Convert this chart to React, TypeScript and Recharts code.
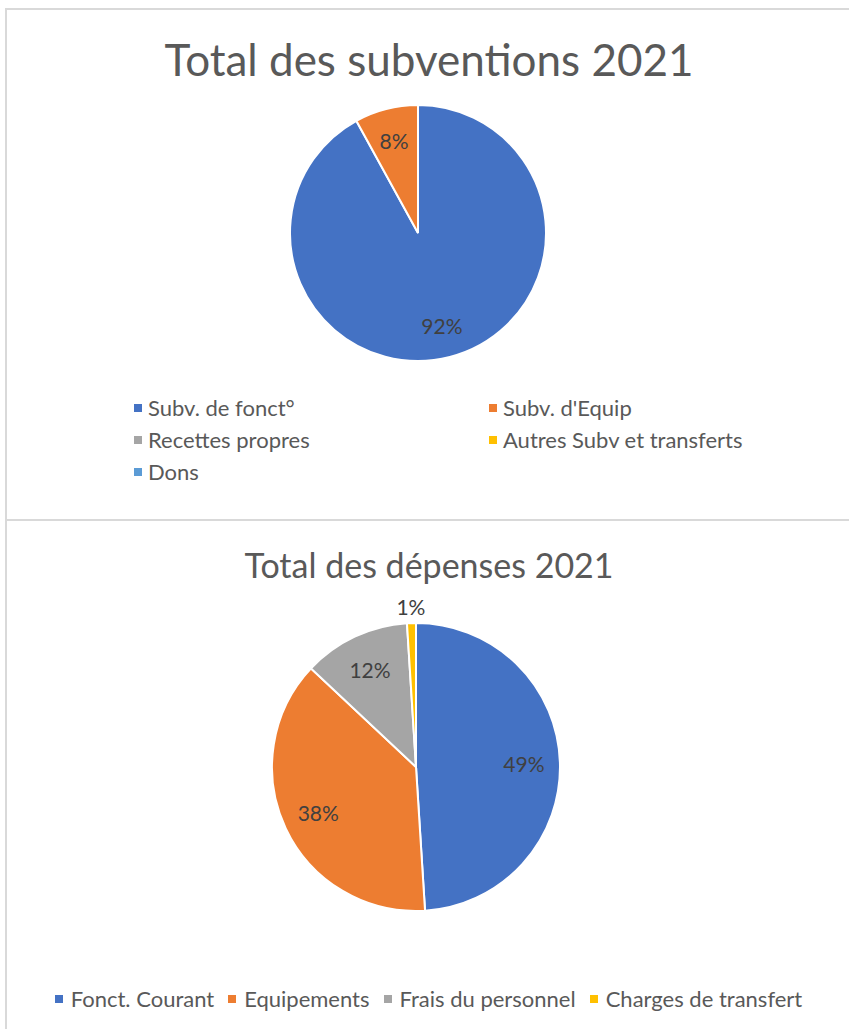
import { Cell, Legend, Pie, PieChart } from "recharts";

const subvLabels = ["Subv. de fonct°", "Subv. d'Equip", "Recettes propres", "Autres Subv et transferts", "Dons"];
const subvValues = [92, 8, 0, 0, 0];
const subvColors = ["#4472C4", "#ED7D31", "#A5A5A5", "#FFC000", "#5B9BD5"];

const depLabels = ["Fonct. Courant", "Equipements", "Frais du personnel", "Charges de transfert"];
const depValues = [49, 38, 12, 1];
const depColors = ["#4472C4", "#ED7D31", "#A5A5A5", "#FFC000"];

const FONT = "Lato, 'Open Sans', sans-serif";
const TEXT = "#595959";
const RAD = Math.PI / 180;
const NO_MARGIN = { top: 0, right: 0, bottom: 0, left: 0 };

const subvData = subvLabels.map((name, i) => ({ name, value: subvValues[i] }));
const depData = depLabels.map((name, i) => ({ name, value: depValues[i] }));

function renderLabel(props: any) {
  const { cx, cy, midAngle, outerRadius, percent, index } = props;
  if (!percent) return null;
  const r = percent < 0.03 ? outerRadius + 17 : outerRadius * 0.75;
  const x = cx + r * Math.cos(-midAngle * RAD);
  const y = cy + r * Math.sin(-midAngle * RAD);
  return (
    <text
      key={`lbl-${index}`}
      x={x}
      y={y}
      fill="#404040"
      fontSize={21}
      fontFamily={FONT}
      textAnchor="middle"
      dominantBaseline="central"
    >
      {`${Math.round(percent * 100)}%`}
    </text>
  );
}

function Swatch({ color, gap = 6 }: { color: string; gap?: number }) {
  return <span style={{ display: "inline-block", width: 8, height: 8, background: color, marginRight: gap }} />;
}

function SubvLegend() {
  return (
    <div style={{ position: "relative", fontFamily: FONT, fontSize: 22, color: TEXT }}>
      {subvLabels.map((name, i) => (
        <div
          key={name}
          style={{
            position: "absolute",
            left: i % 2 === 0 ? 134 : 489,
            top: Math.floor(i / 2) * 32,
            display: "flex",
            alignItems: "center",
            whiteSpace: "nowrap",
            lineHeight: "24px",
          }}
        >
          <Swatch color={subvColors[i]} />
          {name}
        </div>
      ))}
    </div>
  );
}

function DepLegend() {
  return (
    <div
      style={{
        display: "flex",
        justifyContent: "center",
        fontFamily: FONT,
        fontSize: 22,
        color: TEXT,
        lineHeight: "24px",
        paddingLeft: 22,
      }}
    >
      {depLabels.map((name, i) => (
        <div key={name} style={{ display: "flex", alignItems: "center", marginRight: 14, whiteSpace: "nowrap" }}>
          <Swatch color={depColors[i]} gap={8} />
          {name}
        </div>
      ))}
    </div>
  );
}

const frame = {
  position: "absolute" as const,
  left: 5,
  width: 860,
  border: "2px solid #d9d9d9",
  boxSizing: "border-box" as const,
  background: "#fff",
};

const titleStyle = {
  position: "absolute" as const,
  left: 0,
  width: 858,
  textAlign: "center" as const,
  fontFamily: FONT,
  color: TEXT,
  whiteSpace: "nowrap" as const,
};

export default function App() {
  return (
    <div style={{ position: "absolute", left: 0, top: 0, width: 849, height: 1029, overflow: "hidden", background: "#fff" }}>
      <div style={{ ...frame, top: 8, height: 513 }} />
      <div style={{ ...frame, top: 519, height: 520 }} />

      <div style={{ position: "absolute", left: 0, top: 0 }}>
        <PieChart width={849} height={519} margin={NO_MARGIN}>
          <Pie
            data={subvData}
            dataKey="value"
            nameKey="name"
            cx={418}
            cy={233}
            outerRadius={128}
            startAngle={90}
            endAngle={-270}
            stroke="#fff"
            strokeWidth={2}
            label={renderLabel}
            labelLine={false}
            isAnimationActive={false}
          >
            {subvData.map((d, i) => (
              <Cell key={d.name} fill={subvColors[i]} />
            ))}
          </Pie>
          <Legend content={() => <SubvLegend />} wrapperStyle={{ left: 0, top: 396, width: 849 }} />
        </PieChart>
      </div>
      <div style={{ ...titleStyle, top: 32, fontSize: 44, lineHeight: "54px" }}>Total des subventions 2021</div>

      <div style={{ position: "absolute", left: 0, top: 521 }}>
        <PieChart width={849} height={508} margin={NO_MARGIN}>
          <Pie
            data={depData}
            dataKey="value"
            nameKey="name"
            cx={416}
            cy={246}
            outerRadius={144}
            startAngle={90}
            endAngle={-270}
            stroke="#fff"
            strokeWidth={2}
            label={renderLabel}
            labelLine={false}
            isAnimationActive={false}
          >
            {depData.map((d, i) => (
              <Cell key={d.name} fill={depColors[i]} />
            ))}
          </Pie>
          <Legend content={() => <DepLegend />} wrapperStyle={{ left: 0, top: 466, width: 849 }} />
        </PieChart>
      </div>
      <div style={{ ...titleStyle, top: 543, fontSize: 34, lineHeight: "44px" }}>Total des dépenses 2021</div>
    </div>
  );
}
